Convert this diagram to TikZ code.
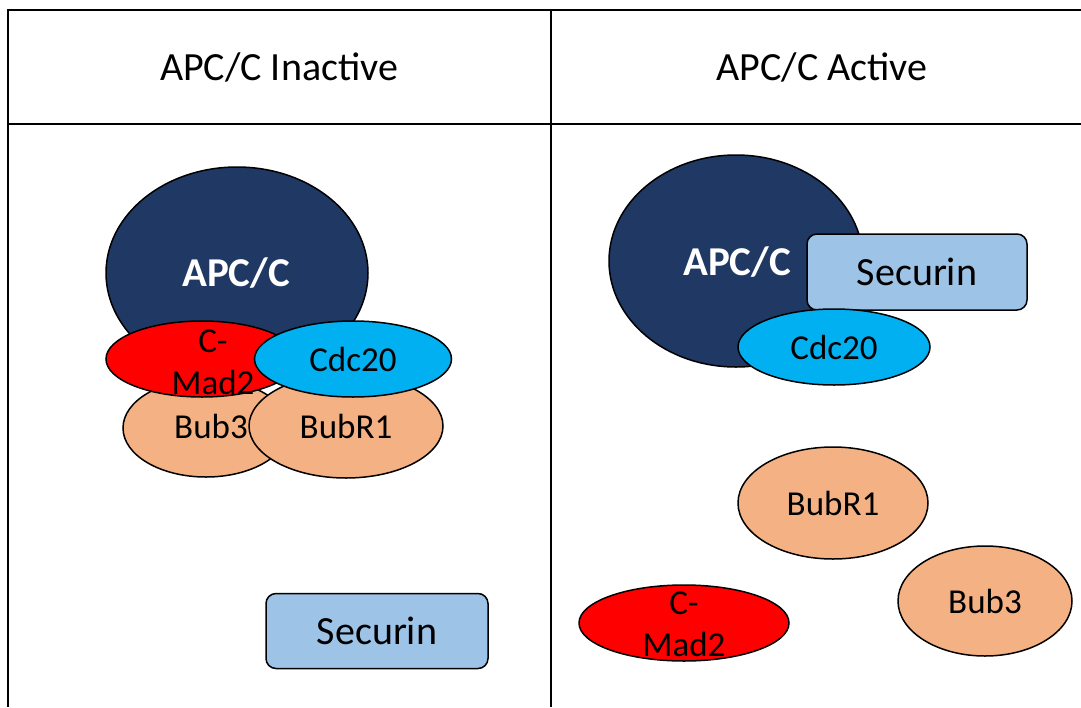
\documentclass[tikz,border=0pt]{standalone}
\usepackage{fontspec}
\setmainfont{Carlito}
\usepackage{tikz}
\usetikzlibrary{shapes.geometric}

\definecolor{apcblue}{HTML}{1F3864}
\definecolor{madred}{HTML}{FF0000}
\definecolor{cdcblue}{HTML}{00B0F0}
\definecolor{bubpeach}{HTML}{F4B183}
\definecolor{secblue}{HTML}{9DC3E6}

\tikzset{
  grid/.style={line width=2.5pt,black},
  prot/.style={ellipse,draw=black,line width=1.5pt,inner sep=0pt},
  apc/.style={prot,fill=apcblue,text=white,font=\fontsize{41}{48}\selectfont\bfseries},
  mad/.style={prot,fill=madred},
  cdc/.style={prot,fill=cdcblue,font=\fontsize{35}{42}\selectfont},
  bub/.style={prot,fill=bubpeach,font=\fontsize{35}{42}\selectfont},
  secbox/.style={draw=black,line width=1.5pt,rounded corners=10pt,fill=secblue,
    inner sep=0pt,font=\fontsize{40}{48}\selectfont},
  madtext/.style={align=center,inner sep=0pt,font=\fontsize{35}{42}\selectfont},
  head/.style={font=\fontsize{40}{48}\selectfont}
}

\begin{document}
\begin{tikzpicture}[x=1pt,y=-1pt]
\useasboundingbox (0,0) rectangle (1081,707);

% table
\coordinate (tl) at (8,10);
\coordinate (tr) at (1081,10);
\coordinate (hl) at (8,124);
\coordinate (hr) at (1081,124);
\coordinate (bl) at (8,707);
\coordinate (mt) at (551,10);
\coordinate (mb) at (551,707);
\draw[grid] (tr) -- (tl) -- (bl);
\draw[grid] (hl) -- (hr);
\draw[grid] (mt) -- (mb);

\node[head] (hin) at (279,67) {APC/C Inactive};
\node[head] (hact) at (822,67) {APC/C Active};

% inactive
\node[apc,minimum width=262pt,minimum height=212pt] (apcL) at (237,273) {};
\node[bub,minimum width=166pt,minimum height=98pt] (bub3L) at (206,428) {};
\node[bub,minimum width=194pt,minimum height=104pt] (bubr1L) at (346,426) {BubR1};
\node[mad,minimum width=192pt,minimum height=76pt] (madL) at (202,359) {};
\node[cdc,minimum width=197pt,minimum height=76pt] (cdcL) at (353,359) {Cdc20};
\node[font=\fontsize{41}{48}\selectfont\bfseries,text=white] (apcLt) at (236,273) {APC/C};
\node[font=\fontsize{35}{42}\selectfont] (bub3Lt) at (211,426) {Bub3};
\node[madtext] (madLt) at (213,362) {C-\\Mad2};
\node[secbox,minimum width=222pt,minimum height=75pt] (secL) at (377,631) {Securin};

% active
\node[apc,minimum width=254pt,minimum height=212pt] (apcR) at (736,261) {};
\node[secbox,minimum width=220pt,minimum height=76pt] (secR) at (917,272) {Securin};
\node[cdc,minimum width=192pt,minimum height=76pt] (cdcR) at (834,347) {Cdc20};
\node[font=\fontsize{41}{48}\selectfont\bfseries,text=white] (apcRt) at (737,262) {APC/C};
\node[bub,minimum width=190pt,minimum height=112pt] (bubr1R) at (833,503) {BubR1};
\node[bub,minimum width=174pt,minimum height=110pt] (bub3R) at (985,601) {Bub3};
\node[mad,minimum width=210pt,minimum height=76pt] (madR) at (684,623) {};
\node[madtext] (madRt) at (684,624) {C-\\Mad2};
\end{tikzpicture}
\end{document}
